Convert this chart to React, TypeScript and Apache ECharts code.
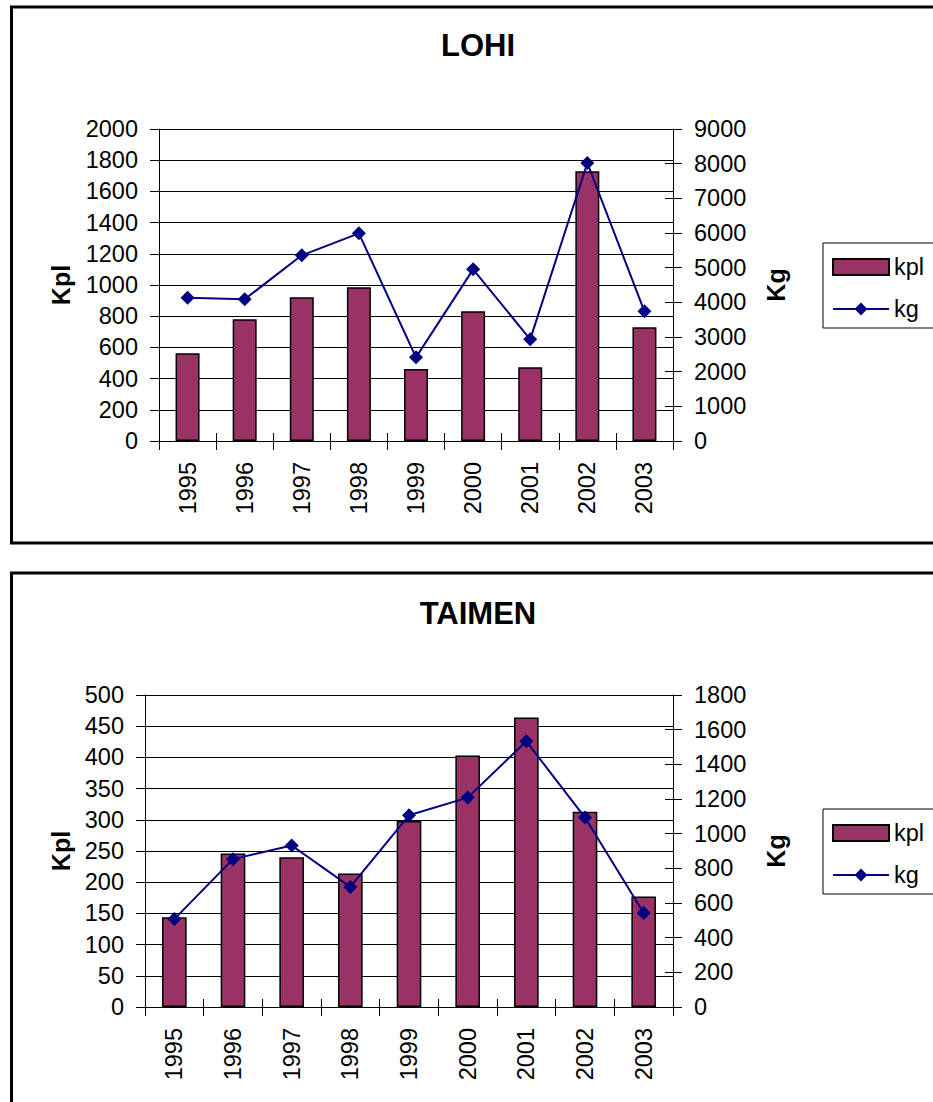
import React, { useEffect, useRef } from "react";
import * as echarts from "echarts";

const years = ["1995", "1996", "1997", "1998", "1999", "2000", "2001", "2002", "2003"];

const lohiKpl = [562, 780, 921, 985, 461, 831, 472, 1729, 729];
const lohiKg = [4135, 4087, 5356, 5990, 2413, 4952, 2933, 8019, 3740];

const taimenKpl = [144, 246, 240, 214, 298, 403, 464, 313, 177];
const taimenKg = [507, 853, 932, 693, 1106, 1208, 1533, 1093, 542];

const lohiLeftAxis = { max: 2000, interval: 200 };
const lohiRightAxis = { max: 9000, interval: 1000 };
const taimenLeftAxis = { max: 500, interval: 50 };
const taimenRightAxis = { max: 1800, interval: 200 };

const FONT = '"Liberation Sans", Arial, Helvetica, sans-serif';

type PanelProps = {
  title: string;
  kpl: number[];
  kg: number[];
  left: { max: number; interval: number };
  right: { max: number; interval: number };
  frameTop: number;
  frameHeight: number;
  titleY: number;
  gridLeft: number;
  gridTop: number;
  gridWidth: number;
  gridHeight: number;
  legendTop: number;
};

const plain = (v: number) => String(v);

function buildOption(p: PanelProps) {
  const midY = p.gridTop + p.gridHeight / 2;
  const black = "#000";
  return {
    animation: false,
    textStyle: { fontFamily: FONT },
    grid: {
      left: p.gridLeft,
      top: p.gridTop,
      width: p.gridWidth,
      height: p.gridHeight,
      containLabel: false,
    },
    legend: {
      orient: "vertical",
      left: 823,
      top: p.legendTop,
      data: [{ name: "kpl", icon: "rect" }, { name: "kg" }],
      itemWidth: 56,
      itemHeight: 16,
      itemGap: 16,
      padding: [11, 40, 6, 9],
      backgroundColor: "#fff",
      borderColor: black,
      borderWidth: 1,
      selectedMode: false,
      textStyle: {
        fontFamily: FONT,
        fontSize: 23.5,
        color: black,
        lineHeight: 26,
      },
    },
    xAxis: [
      {
        type: "category",
        gridIndex: 0,
        data: years,
        position: "bottom",
        boundaryGap: true,
        axisLine: { show: true, lineStyle: { color: black, width: 1 } },
        axisTick: { show: true, length: 9, interval: 0, lineStyle: { color: black, width: 1 } },
        axisLabel: {
          interval: 0,
          rotate: 90,
          margin: 21,
          fontSize: 23.5,
          fontFamily: FONT,
          color: black,
        },
        splitLine: { show: false },
      },
      {
        type: "category",
        gridIndex: 0,
        data: years,
        position: "bottom",
        boundaryGap: true,
        axisLine: { show: false },
        axisTick: { show: true, inside: true, length: 8, interval: 0, lineStyle: { color: black, width: 1 } },
        axisLabel: { show: false },
        splitLine: { show: false },
      },
    ],
    yAxis: [
      {
        type: "value",
        position: "left",
        min: 0,
        max: p.left.max,
        interval: p.left.interval,
        axisLine: { show: true, lineStyle: { color: black, width: 1 } },
        axisTick: { show: true, length: 9, lineStyle: { color: black, width: 1 } },
        axisLabel: { margin: 21, fontSize: 23.5, fontFamily: FONT, color: black, formatter: plain },
        splitLine: { show: true, lineStyle: { color: black, width: 1 } },
      },
      {
        type: "value",
        position: "right",
        min: 0,
        max: p.right.max,
        interval: p.right.interval,
        axisLine: { show: true, lineStyle: { color: black, width: 1 } },
        axisTick: { show: true, length: 9, lineStyle: { color: black, width: 1 } },
        axisLabel: { margin: 21, fontSize: 23.5, fontFamily: FONT, color: black, formatter: plain },
        splitLine: { show: false },
      },
      {
        type: "value",
        position: "right",
        min: 0,
        max: p.right.max,
        interval: p.right.interval,
        axisLine: { show: false },
        axisTick: { show: true, inside: true, length: 8, lineStyle: { color: black, width: 1 } },
        axisLabel: { show: false },
        splitLine: { show: false },
      },
    ],
    series: [
      {
        name: "kpl",
        type: "bar",
        xAxisIndex: 0,
        yAxisIndex: 0,
        data: p.kpl,
        barCategoryGap: "58%",
        itemStyle: { color: "#993366", borderColor: black, borderWidth: 1.5 },
        z: 2,
      },
      {
        name: "kg",
        type: "line",
        xAxisIndex: 0,
        yAxisIndex: 1,
        data: p.kg,
        symbol: "diamond",
        symbolSize: 14,
        showSymbol: true,
        lineStyle: { color: "#000080", width: 2 },
        itemStyle: { color: "#000080" },
        z: 3,
      },
    ],
    graphic: [
      {
        type: "rect",
        shape: { x: 11.5, y: p.frameTop, width: 940, height: p.frameHeight },
        style: { fill: "none", stroke: black, lineWidth: 3 },
        silent: true,
        z: -1,
      },
      {
        type: "text",
        x: 478,
        y: p.titleY,
        style: {
          text: p.title,
          fontSize: 31,
          fontWeight: "bold",
          fontFamily: FONT,
          fill: black,
          align: "center",
          verticalAlign: "middle",
        },
      },
      {
        type: "text",
        x: 61,
        y: midY,
        rotation: Math.PI / 2,
        style: {
          text: "Kpl",
          fontSize: 25,
          fontWeight: "bold",
          fontFamily: FONT,
          fill: black,
          align: "center",
          verticalAlign: "middle",
        },
      },
      {
        type: "text",
        x: 776,
        y: midY,
        rotation: Math.PI / 2,
        style: {
          text: "Kg",
          fontSize: 25,
          fontWeight: "bold",
          fontFamily: FONT,
          fill: black,
          align: "center",
          verticalAlign: "middle",
        },
      },
    ],
  };
}

function Panel(props: PanelProps & { top: number; height: number }) {
  const ref = useRef<HTMLDivElement>(null);
  useEffect(() => {
    if (!ref.current) return;
    const chart = echarts.init(ref.current, undefined, { renderer: "svg" });
    chart.setOption(buildOption(props) as any);
    return () => chart.dispose();
  }, []);
  return (
    <div
      ref={ref}
      style={{
        position: "absolute",
        left: 0,
        top: props.top,
        width: 933,
        height: props.height,
        overflow: "hidden",
      }}
    />
  );
}

export default function App() {
  return (
    <div style={{ position: "absolute", left: 0, top: 0, width: 933, height: 1102, overflow: "hidden", background: "#fff" }}>
      <Panel
        top={0}
        height={558}
        title="LOHI"
        kpl={lohiKpl}
        kg={lohiKg}
        left={lohiLeftAxis}
        right={lohiRightAxis}
        frameTop={7}
        frameHeight={536}
        titleY={45}
        gridLeft={159}
        gridTop={129}
        gridWidth={514}
        gridHeight={312}
        legendTop={243}
      />
      <Panel
        top={558}
        height={544}
        title="TAIMEN"
        kpl={taimenKpl}
        kg={taimenKg}
        left={taimenLeftAxis}
        right={taimenRightAxis}
        frameTop={15}
        frameHeight={600}
        titleY={55}
        gridLeft={145}
        gridTop={137}
        gridWidth={528}
        gridHeight={312}
        legendTop={251}
      />
    </div>
  );
}
